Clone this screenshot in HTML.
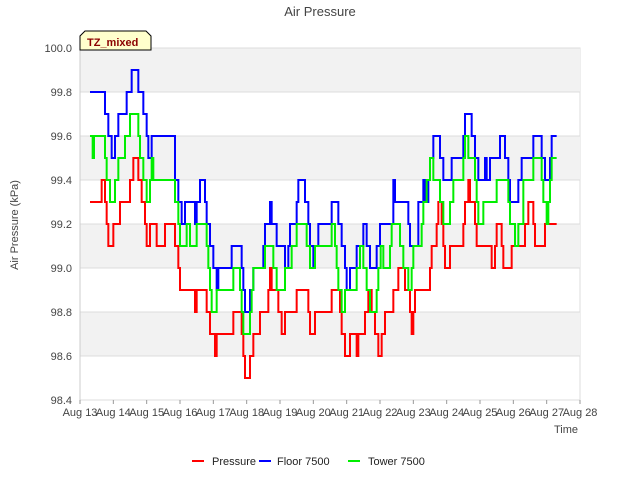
<!DOCTYPE html>
<html><head><meta charset="utf-8"><style>
body{margin:0;background:#fff;font-family:"Liberation Sans",sans-serif}
svg text{font-family:"Liberation Sans",sans-serif}
</style></head><body>
<svg width="640" height="480" id="c">
<text x="320" y="16" text-anchor="middle" font-size="13" fill="#444">Air Pressure</text>
<g id="plot"></g>
<text x="18" y="225" transform="rotate(-90 18 225)" text-anchor="middle" font-size="11" fill="#444">Air Pressure (kPa)</text>
<text x="578" y="433" text-anchor="end" font-size="11" fill="#444">Time</text>
<path d="M80,50 L80,36 L85,31 L146,31 L151,36 L151,50 Z" fill="#ffffcc" stroke="#000" stroke-width="1"/>
<text x="87" y="46" font-size="11" font-weight="bold" fill="#8b0000">TZ_mixed</text>
<g>
<line x1="192" y1="461" x2="204" y2="461" stroke="#ff0000" stroke-width="2"/>
<text x="212" y="465" font-size="11" fill="#222">Pressure</text>
<line x1="259" y1="461" x2="271" y2="461" stroke="#0000ff" stroke-width="2"/>
<text x="277" y="465" font-size="11" fill="#222">Floor 7500</text>
<line x1="348" y1="461" x2="360" y2="461" stroke="#00ee00" stroke-width="2"/>
<text x="368" y="465" font-size="11" fill="#222">Tower 7500</text>
</g>
</svg>
<script>
const xTicks=["Aug 13","Aug 14","Aug 15","Aug 16","Aug 17","Aug 18","Aug 19","Aug 20","Aug 21","Aug 22","Aug 23","Aug 24","Aug 25","Aug 26","Aug 27","Aug 28"];
const yTicks=[98.4,98.6,98.8,99.0,99.2,99.4,99.6,99.8,100.0];
const floorDays=[0.3,0.75,0.85,0.95,1.05,1.15,1.4,1.55,1.75,1.9,2.0,2.05,2.15,2.85,2.95,3.05,3.15,3.45,3.5,3.6,3.75,3.8,3.9,4.0,4.1,4.15,4.55,4.85,4.9,4.95,5.1,5.2,5.5,5.55,5.7,5.75,5.9,6.15,6.25,6.3,6.5,6.55,6.75,6.85,6.9,7.0,7.05,7.15,7.55,7.75,7.85,7.95,8.0,8.1,8.3,8.5,8.6,8.7,8.9,9.0,9.2,9.4,9.45,9.55,9.85,9.9,10.15,10.3,10.35,10.45,10.5,10.6,10.8,10.9,11.15,11.5,11.55,11.75,11.85,11.95,12.15,12.2,12.3,12.5,12.6,12.75,12.85,12.9,13.15,13.25,13.6,13.85,13.95,14.1,14.15,14.3];
const floorVals=[99.8,99.7,99.6,99.5,99.6,99.7,99.8,99.9,99.8,99.7,99.6,99.5,99.6,99.4,99.3,99.2,99.3,99.2,99.3,99.4,99.3,99.2,99.1,99.0,98.9,99.0,99.1,99.0,98.9,98.8,98.9,99.0,99.1,99.2,99.3,99.2,99.1,99.0,99.1,99.2,99.3,99.4,99.3,99.2,99.1,99.0,99.1,99.2,99.3,99.2,99.1,99.0,98.9,99.0,99.1,99.2,99.1,99.0,99.1,99.2,99.2,99.4,99.3,99.3,99.2,99.1,99.3,99.4,99.3,99.4,99.5,99.6,99.5,99.4,99.5,99.6,99.7,99.6,99.5,99.4,99.5,99.4,99.5,99.5,99.6,99.5,99.4,99.3,99.4,99.5,99.6,99.5,99.4,99.5,99.6,99.6];
const towerDays=[0.3,0.38,0.42,0.75,0.8,0.9,1.05,1.15,1.35,1.5,1.75,1.8,1.9,2.0,2.1,2.15,2.2,2.85,2.95,3.0,3.2,3.3,3.5,3.8,3.85,3.9,3.95,4.1,4.6,4.8,4.85,4.9,5.1,5.15,5.2,5.55,5.8,5.9,6.15,6.35,6.5,6.8,6.9,7.05,7.55,7.65,7.7,7.75,7.85,7.95,8.3,8.4,8.5,8.6,8.7,8.9,8.95,9.02,9.1,9.3,9.35,9.6,9.7,9.85,9.95,10.0,10.25,10.3,10.4,10.5,10.6,10.8,10.9,11.1,11.2,11.5,11.55,11.65,11.85,11.9,11.95,12.1,12.5,12.85,12.9,13.05,13.15,13.3,13.6,13.85,13.9,14.0,14.05,14.1,14.15,14.3];
const towerVals=[99.6,99.5,99.6,99.5,99.4,99.3,99.4,99.5,99.6,99.7,99.6,99.5,99.4,99.3,99.4,99.5,99.4,99.3,99.2,99.1,99.2,99.1,99.2,99.1,99.0,98.9,98.8,98.9,99.0,98.9,98.8,98.7,98.8,98.9,99.0,99.1,99.0,98.9,99.0,99.1,99.2,99.1,99.0,99.1,99.2,99.1,99.0,98.9,98.8,98.9,99.0,99.1,99.0,98.9,98.8,98.9,99.0,99.1,99.0,99.1,99.2,99.1,99.0,98.9,99.0,99.1,99.2,99.3,99.4,99.5,99.4,99.3,99.2,99.3,99.4,99.5,99.6,99.5,99.4,99.3,99.2,99.3,99.4,99.3,99.2,99.1,99.2,99.4,99.5,99.4,99.3,99.2,99.3,99.4,99.5,99.5];
const presDays=[0.3,0.65,0.75,0.8,0.85,1.0,1.2,1.5,1.6,1.75,1.85,1.95,2.0,2.1,2.3,2.55,2.85,2.95,3.0,3.45,3.5,3.8,3.9,4.05,4.1,4.6,4.85,4.9,4.95,5.1,5.2,5.4,5.65,5.7,5.75,5.85,5.95,6.05,6.15,6.5,6.85,6.9,7.05,7.55,7.8,7.85,7.95,8.1,8.3,8.35,8.55,8.65,8.75,8.85,8.95,9.05,9.15,9.4,9.55,9.75,9.9,9.95,10.0,10.05,10.5,10.55,10.7,10.75,10.85,10.9,10.95,11.1,11.5,11.55,11.65,11.7,11.85,11.9,12.35,12.45,12.5,12.65,12.7,12.95,13.35,13.45,13.6,13.65,13.85,13.95,14.3];
const presVals=[99.3,99.4,99.3,99.2,99.1,99.2,99.3,99.4,99.5,99.4,99.3,99.2,99.1,99.2,99.1,99.2,99.1,99.0,98.9,98.8,98.9,98.8,98.7,98.6,98.7,98.8,98.7,98.6,98.5,98.6,98.7,98.8,98.9,99.0,98.9,98.9,98.8,98.7,98.8,98.9,98.8,98.7,98.8,98.9,98.8,98.7,98.6,98.7,98.6,98.7,98.8,98.9,98.8,98.7,98.6,98.7,98.8,98.9,99.0,98.9,98.8,98.7,98.8,98.9,99.0,99.1,99.2,99.3,99.2,99.1,99.0,99.1,99.2,99.3,99.4,99.3,99.2,99.1,99.0,99.1,99.2,99.1,99.0,99.1,99.2,99.3,99.2,99.1,99.1,99.2,99.2];

const NS="http://www.w3.org/2000/svg";
const X0=80,X1=580,Y0=400,Y1=48,VMIN=98.4,VMAX=100.0;
function xs(d){return X0+d*(X1-X0)/15;}
function ys(v){return Y0-(v-VMIN)*(Y0-Y1)/(VMAX-VMIN);}
const plot=document.getElementById('plot');
function mk(t,a){const e=document.createElementNS(NS,t);for(const k in a)e.setAttribute(k,a[k]);plot.appendChild(e);return e;}
const bg=mk('rect',{x:X0,y:Y1,width:X1-X0,height:Y0-Y1,fill:'#fff',stroke:'#ddd'});


for(let i=0;i<yTicks.length-1;i++){
  if(i%2===1){
    const b=mk('rect',{x:X0,y:ys(yTicks[i+1]),width:X1-X0,height:ys(yTicks[i])-ys(yTicks[i+1]),fill:'#f2f2f2'});
    
    
  }
}
yTicks.forEach(v=>{
  const l=mk('line',{x1:X0,x2:X1,y1:ys(v),y2:ys(v),stroke:'#dcdcdc','stroke-width':1});
  
  
  const t=mk('text',{x:X0-8,y:ys(v)+4,'text-anchor':'end','font-size':11,fill:'#444'});
  t.textContent=v.toFixed(1);
  
  
});
const ax=mk('line',{x1:X0,x2:X0,y1:Y1,y2:Y0,stroke:'#ccc'});


xTicks.forEach((s,i)=>{
  const l=mk('line',{x1:xs(i),x2:xs(i),y1:Y0,y2:Y0+4,stroke:'#999'});
  
  
  const t=mk('text',{x:xs(i),y:Y0+16,'text-anchor':'middle','font-size':11,fill:'#444'});
  t.textContent=s;
  
  
});
function series(days,vals,col,name){
  let pts=[];
  for(let i=0;i<days.length;i++){
    if(i>0)pts.push(xs(days[i])+','+ys(vals[i-1]));
    pts.push(xs(days[i])+','+ys(vals[i]));
  }
  const p=mk('polyline',{points:pts.join(' '),fill:'none',stroke:col,'stroke-width':2});
  
  
}
series(presDays,presVals,'#ff0000','pressure-line');
series(floorDays,floorVals,'#0000ff','floor-7500-line');
series(towerDays,towerVals,'#00ee00','tower-7500-line');
</script>
</body></html>
